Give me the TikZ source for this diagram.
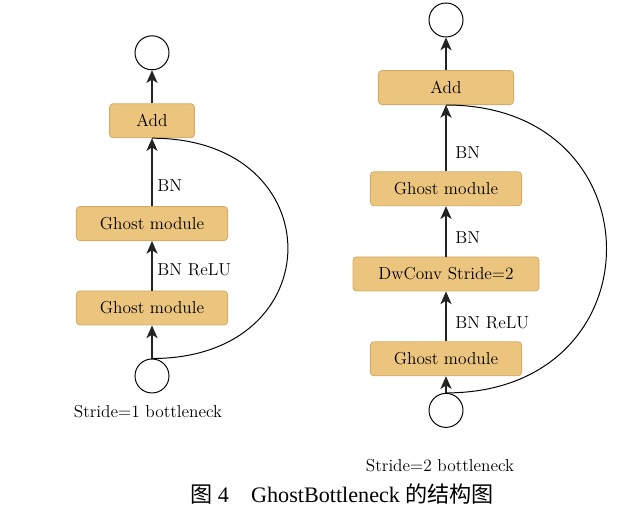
\documentclass[tikz,border=0pt]{standalone}
\usepackage{fontspec}
\usepackage{tikz}
\usetikzlibrary{positioning, shapes, calc, arrows.meta}
\newfontfamily\cjkfont{Noto Sans CJK SC}
\newfontfamily\capfont{Liberation Serif}
\definecolor{boxfill}{RGB}{235,196,126}
\definecolor{boxline}{RGB}{214,172,100}
\definecolor{linegray}{RGB}{35,35,35}

\begin{document}
\begin{tikzpicture}[
		every node/.style={font=\fontsize{12.3}{14}\selectfont},
		block/.style={draw=boxline, fill=boxfill, rounded corners=2.5pt, minimum height=0.85cm, inner sep=0pt, line width=0.6pt},
		io/.style={draw, circle, minimum size=0.85cm, inner sep=0pt, line width=0.7pt},
		lbl/.style={anchor=west, inner sep=0pt},
		arr/.style={-{Stealth[length=0.32cm, width=0.28cm, inset=0.09cm]}, linegray, line width=0.8pt},
		skip/.style={line width=0.7pt}]
			\useasboundingbox (0,0) rectangle (15.8,12.8);
			
			% stride = 1
			\node[io] (in1) at (3.8, 3.4) {};
			\node[block, minimum width=3.78cm] (gm1a) at (3.8, 5.1) {Ghost module};
			\node[block, minimum width=3.78cm] (gm1b) at (3.8, 7.21) {Ghost module};
			\node[block, minimum width=2.12cm] (add1) at (3.8, 9.78) {Add};
			\node[io] (out1) at (3.8, 11.48) {};
			\draw[arr] (in1) -- (gm1a);
			\draw[arr] (gm1a) -- (gm1b);
			\draw[arr] (gm1b) -- (add1);
			\draw[arr] (add1) -- (out1);
			\node[lbl] (bnrelu1) at (3.93, 6.05) {BN ReLU};
			\node[lbl] (bn1) at (3.93, 8.15) {BN};
			\draw[skip] (in1.north) .. controls (8.33, 3.83) and (8.33, 9.35) .. (add1.south);
			\node (cap1) at (3.7, 2.5) {Stride=1 bottleneck};
			
			% stride = 2
			\node[io] (in2) at (11.15, 2.54) {};
			\node[block, minimum width=3.78cm] (gm2a) at (11.15, 3.83) {Ghost module};
			\node[block, minimum width=4.65cm] (dw2) at (11.15, 5.95) {DwConv Stride=2};
			\node[block, minimum width=3.78cm] (gm2b) at (11.15, 8.08) {Ghost module};
			\node[block, minimum width=3.38cm] (add2) at (11.15, 10.61) {Add};
			\node[io] (out2) at (11.15, 12.3) {};
			\draw[arr] (in2) -- (gm2a);
			\draw[arr] (gm2a) -- (dw2);
			\draw[arr] (dw2) -- (gm2b);
			\draw[arr] (gm2b) -- (add2);
			\draw[arr] (add2) -- (out2);
			\node[lbl] (bnrelu2) at (11.38, 4.73) {BN ReLU};
			\node[lbl] (bn2a) at (11.38, 6.85) {BN};
			\node[lbl] (bn2b) at (11.38, 8.98) {BN};
			\draw[skip] (in2.north) .. controls (16.5, 2.97) and (16.5, 10.18) .. (add2.south);
			\node (cap2) at (11.0, 1.15) {Stride=2 bottleneck};
			
			\node[anchor=west, inner sep=0pt, font=\capfont\fontsize{15.75}{18}\selectfont] (fig) at (4.75, 0.45) {{\cjkfont 图} 4\quad GhostBottleneck {\cjkfont 的结构图}};
\end{tikzpicture}
\end{document}
